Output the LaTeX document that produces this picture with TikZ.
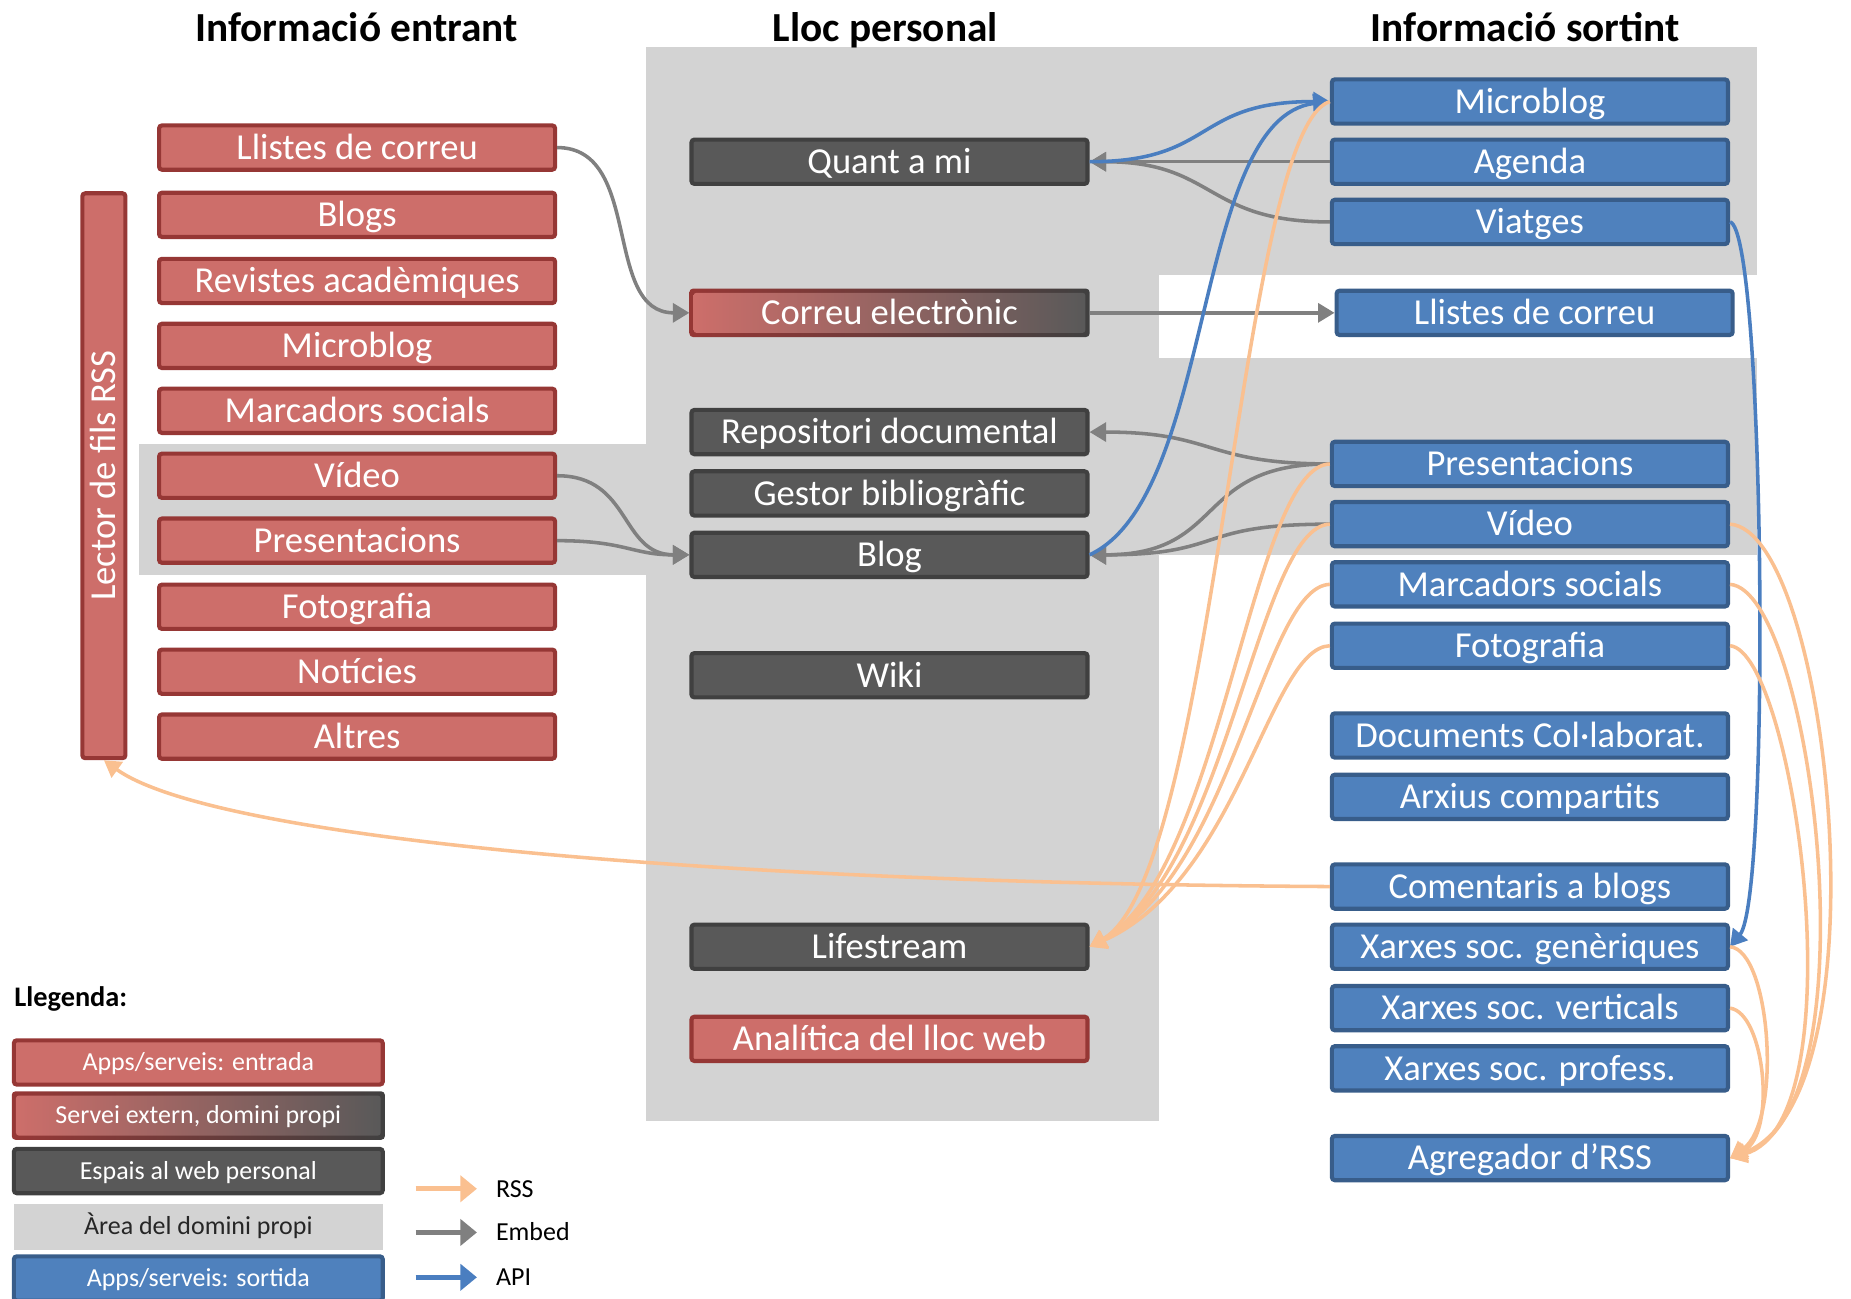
\documentclass[tikz,border=0pt]{standalone}
\usepackage{fontspec}
\setmainfont{Carlito}
\usetikzlibrary{arrows.meta}
\definecolor{redF}{RGB}{205,110,106}
\definecolor{redB}{RGB}{150,55,53}
\definecolor{darkF}{RGB}{89,89,89}
\definecolor{darkB}{RGB}{64,64,64}
\definecolor{blueF}{RGB}{79,129,189}
\definecolor{blueB}{RGB}{56,93,138}
\definecolor{areaG}{RGB}{211,211,211}
\definecolor{rssC}{RGB}{250,192,144}
\definecolor{embC}{RGB}{128,128,128}
\definecolor{apiC}{RGB}{74,126,192}
\tikzset{
  box/.style={rectangle, rounded corners=2.5pt, line width=3.5pt, minimum width=335.5pt, minimum height=37.5pt, inner sep=0pt, text=white, font=\fontsize{31}{36}\selectfont, text height=20pt, text depth=0pt},
  redbox/.style={box, fill=redF, draw=redB},
  darkbox/.style={box, fill=darkF, draw=darkB},
  bluebox/.style={box, fill=blueF, draw=blueB},
  gradbox/.style={box, left color=redF, right color=darkF, draw=none, minimum width=332pt, minimum height=34pt, outer sep=3.5pt},
  legfont/.style={minimum width=312.5pt, font=\fontsize{22}{26}\selectfont, text height=14pt},
  title/.style={font=\fontsize{35}{40}\selectfont\bfseries, text height=22.5pt, text depth=0pt, inner sep=0pt},
  conn/.style={line width=3pt, -{Triangle[length=14pt,width=16pt]}},
  emb/.style={conn, draw=embC},
  rss/.style={conn, draw=rssC},
  api/.style={conn, draw=apiC},
  legarrow/.style={line width=4.5pt, -{Triangle[length=14pt,width=22pt]}},
  leglabel/.style={anchor=west, inner sep=0pt, font=\fontsize{22}{26}\selectfont, text height=14pt, text depth=0pt}
}
\begin{document}
\begin{tikzpicture}[x=1pt,y=-1pt]
\useasboundingbox (0,0) rectangle (1568,1100);
% domain areas
\fill[areaG] (547,40) rectangle (1488,470);
\fill[areaG] (547,40) rectangle (982,950);
\fill[areaG] (118,376) rectangle (547,487);
\fill[white] (982,233) rectangle (1488,303);

% titles
\node[title] (tIn) at (302,24) {Informació entrant};
\node[title] (tLloc) at (750,24) {Lloc personal};
\node[title] (tOut) at (1292,24) {Informació sortint};

% left column
\node[redbox] (lLlistes) at (302.5,125) {Llistes de correu};
\node[redbox] (lBlogs) at (302.5,182) {Blogs};
\node[redbox] (lRev) at (302.5,238) {Revistes acadèmiques};
\node[redbox] (lMicro) at (302.5,293) {Microblog};
\node[redbox] (lMarc) at (302.5,348) {Marcadors socials};
\node[redbox] (lVid) at (302.5,403) {Vídeo};
\node[redbox] (lPres) at (302.5,458) {Presentacions};
\node[redbox] (lFoto) at (302.5,514) {Fotografia};
\node[redbox] (lNot) at (302.5,569) {Notícies};
\node[redbox] (lAlt) at (302.5,624) {Altres};
\node[redbox, minimum width=478.5pt, minimum height=36.5pt, rotate=90] (lector) at (88,403) {Lector de fils RSS};
\coordinate (lectorBot) at (lector.west);

% center column
\node[darkbox] (cQuant) at (753.5,137) {Quant a mi};
\shade[left color=redB, right color=darkB, rounded corners=3pt] (584,244.5) rectangle (923,285.5);
\node[gradbox] (cCorreu) at (753.5,265) {Correu electrònic};
\node[darkbox] (cRepo) at (753.5,366) {Repositori documental};
\node[darkbox] (cGestor) at (753.5,418) {Gestor bibliogràfic};
\node[darkbox] (cBlog) at (753.5,470) {Blog};
\node[darkbox] (cWiki) at (753.5,572) {Wiki};
\node[darkbox] (cLife) at (753.5,802) {Lifestream};
\node[redbox] (cAnal) at (753.5,880) {Analítica del lloc web};

% right column
\node[bluebox] (rMicro) at (1296,86) {Microblog};
\node[bluebox] (rAgenda) at (1296,137) {Agenda};
\node[bluebox] (rViat) at (1296,188) {Viatges};
\node[bluebox] (rLlistes) at (1300,265) {Llistes de correu};
\node[bluebox] (rPres) at (1296,393) {Presentacions};
\node[bluebox] (rVid) at (1296,444) {Vídeo};
\node[bluebox] (rMarc) at (1296,495) {Marcadors socials};
\node[bluebox] (rFoto) at (1296,547) {Fotografia};
\node[bluebox] (rDocs) at (1296,623) {Documents Col·laborat.};
\node[bluebox] (rArx) at (1296,675) {Arxius compartits};
\node[bluebox] (rCom) at (1296,751) {Comentaris a blogs};
\node[bluebox] (rGen) at (1296,802) {Xarxes soc. genèriques};
\node[bluebox] (rVert) at (1296,854) {Xarxes soc. verticals};
\node[bluebox] (rProf) at (1296,905) {Xarxes soc. profess.};
\node[bluebox] (rAgr) at (1296,981) {Agregador d’RSS};

% embed connectors
\draw[emb] (lLlistes.east) .. controls (545,125) and (510,265) .. (cCorreu.west);
\draw[emb] (lVid.east) .. controls (535,403) and (525,470) .. (cBlog.west);
\draw[emb] (lPres.east) .. controls (530,458) and (535,470) .. (cBlog.west);
\draw[emb] (rAgenda.west) -- (cQuant.east);
\draw[emb] (rViat.west) .. controls (1020,188) and (1030,137) .. (cQuant.east);
\draw[emb] (cCorreu.east) -- (rLlistes.west);
\draw[emb] (rPres.west) .. controls (1020,393) and (1030,366) .. (cRepo.east);
\draw[emb] (rPres.west) .. controls (1010,393) and (1040,470) .. (cBlog.east);
\draw[emb] (rVid.west) .. controls (1010,444) and (1040,470) .. (cBlog.east);

% API connectors
\draw[api] (cQuant.east) .. controls (1030,137) and (1010,86) .. (rMicro.west);
\draw[api] (cBlog.east) .. controls (1030,420) and (1010,100) .. (rMicro.west);
\draw[api] (rViat.east) .. controls (1495,195) and (1500,760) .. (rGen.east);

% RSS connectors
\draw[rss] (rMicro.west) .. controls (1050,110) and (1030,740) .. (cLife.east);
\draw[rss] (rPres.west) .. controls (1060,395) and (1035,740) .. (cLife.east);
\draw[rss] (rVid.west) .. controls (1065,446) and (1040,740) .. (cLife.east);
\draw[rss] (rMarc.west) .. controls (1070,497) and (1045,740) .. (cLife.east);
\draw[rss] (rFoto.west) .. controls (1075,549) and (1050,745) .. (cLife.east);
\draw[rss] (rCom.west) .. controls (600,748) and (180,710) .. (lectorBot);
\draw[rss] (rVid.east) .. controls (1550,450) and (1600,930) .. (rAgr.east);
\draw[rss] (rMarc.east) .. controls (1535,500) and (1590,940) .. (rAgr.east);
\draw[rss] (rFoto.east) .. controls (1520,552) and (1575,950) .. (rAgr.east);
\draw[rss] (rGen.east) .. controls (1500,805) and (1510,950) .. (rAgr.east);
\draw[rss] (rVert.east) .. controls (1495,858) and (1505,960) .. (rAgr.east);

% legend
\node[anchor=west, inner sep=0pt, font=\fontsize{24}{28}\selectfont\bfseries, text height=16pt, text depth=0pt] (leg) at (12,845) {Llegenda:};
\node[redbox, legfont] (lgIn) at (168,900) {Apps/serveis: entrada};
\shade[left color=redB, right color=darkB, rounded corners=3pt] (10,924.5) rectangle (326,965.5);
\node[gradbox, legfont, minimum width=309pt] (lgExt) at (168,945) {Servei extern, domini propi};
\node[darkbox, legfont] (lgEsp) at (168,992) {Espais al web personal};
\node[box, legfont, fill=areaG, draw=none, text=black!85, minimum width=313pt, minimum height=39pt, rounded corners=0pt] (lgArea) at (168,1039) {Àrea del domini propi};
\node[bluebox, legfont] (lgOut) at (168,1083) {Apps/serveis: sortida};

\node[leglabel] (tRSS) at (420,1007) {RSS};
\node[leglabel] (tEmb) at (420,1044) {Embed};
\node[leglabel] (tAPI) at (420,1082) {API};
\coordinate (sRSS) at (352,1007); \coordinate (eRSS) at (404,1007);
\coordinate (sEmb) at (352,1044); \coordinate (eEmb) at (404,1044);
\coordinate (sAPI) at (352,1082); \coordinate (eAPI) at (404,1082);
\draw[legarrow, draw=rssC] (sRSS) -- (eRSS);
\draw[legarrow, draw=embC] (sEmb) -- (eEmb);
\draw[legarrow, draw=apiC] (sAPI) -- (eAPI);
\end{tikzpicture}
\end{document}
